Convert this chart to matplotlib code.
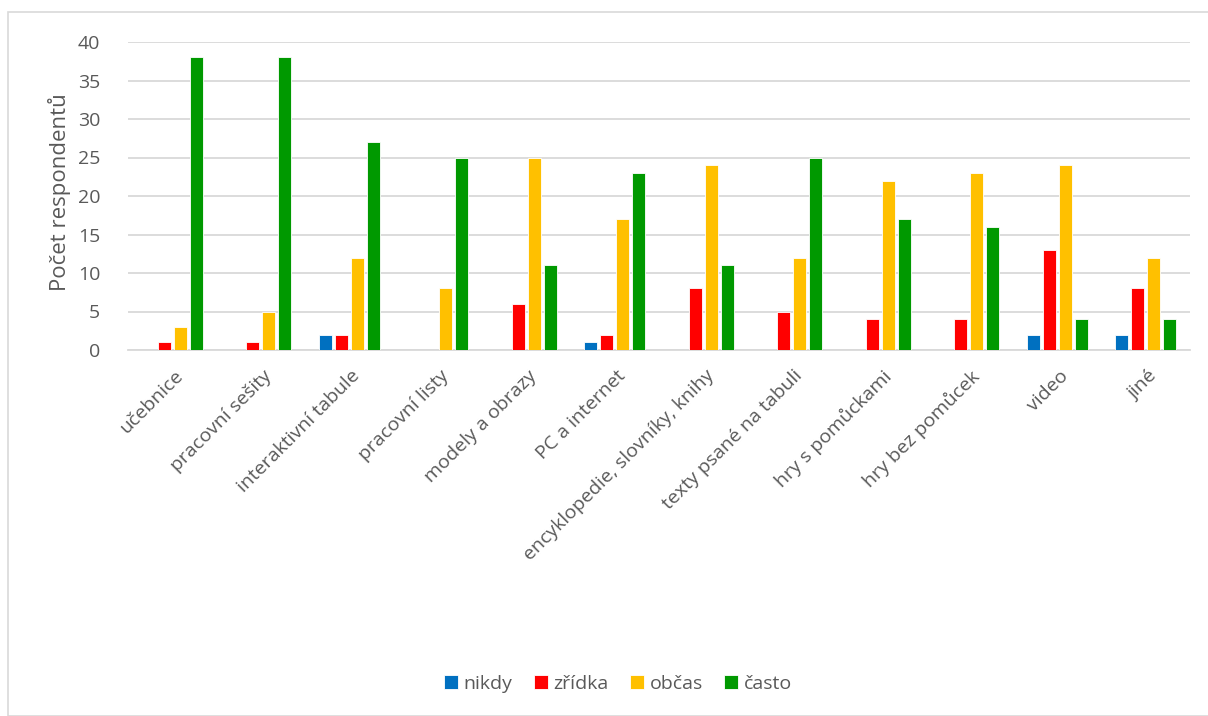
import matplotlib
matplotlib.use("Agg")
import matplotlib.pyplot as plt
from matplotlib.patches import Rectangle
import numpy as np

categories = ["učebnice", "pracovní sešity", "interaktivní tabule", "pracovní listy",
              "modely a obrazy", "PC a internet", "encyklopedie, slovníky, knihy",
              "texty psané na tabuli", "hry s pomůckami", "hry bez pomůcek", "video", "jiné"]
nikdy = [0, 0, 2, 0, 0, 1, 0, 0, 0, 0, 2, 2]
zridka = [1, 1, 2, 0, 6, 2, 8, 5, 4, 4, 13, 8]
obcas = [3, 5, 12, 8, 25, 17, 24, 12, 22, 23, 24, 12]
casto = [38, 38, 27, 25, 11, 23, 11, 25, 17, 16, 4, 4]

series = [("nikdy", nikdy, "#0070C0"), ("zřídka", zridka, "#FF0000"),
          ("občas", obcas, "#FFC000"), ("často", casto, "#009900")]

plt.rcParams['font.family'] = ['Open Sans', 'DejaVu Sans']
text_color = "#595959"
W, H = 1208, 716

fig = plt.figure(figsize=(W / 100, H / 100), dpi=100)
fig.patches.append(Rectangle((8 / W, 0), 1.2, 1 - 12 / H, transform=fig.transFigure,
                             fill=False, edgecolor="#D9D9D9", linewidth=1.2))

ax = fig.add_axes([128 / W, 1 - 350 / H, (1190 - 128) / W, (350 - 42) / H])
x = np.arange(len(categories))
step = 0.182
width = 0.148
for i, (name, vals, col) in enumerate(series):
    ax.bar(x + (i - 1.5) * step, vals, width=width, color=col, label=name,
           edgecolor="white", linewidth=0.6, zorder=3)

ax.set_xlim(-0.5, len(categories) - 0.5)
ax.set_ylim(0, 40)
ax.set_yticks(range(0, 41, 5))
ax.yaxis.grid(True, color="#D9D9D9", linewidth=1.3, zorder=0)
ax.set_axisbelow(True)
for s in ["top", "right", "left"]:
    ax.spines[s].set_visible(False)
ax.spines["bottom"].set_color("#D9D9D9")
ax.spines["bottom"].set_linewidth(1.3)
ax.tick_params(axis="both", length=0, labelsize=14, labelcolor=text_color)
ax.tick_params(axis="y", pad=20)
ax.set_xticks(x + 0.02)
ax.set_xticklabels(categories, rotation=45, ha="right", va="top", rotation_mode="anchor")
ax.tick_params(axis="x", pad=12)

fig.text(60 / W, 1 - 192 / H, "Počet respondentů", rotation=90, fontsize=16,
         color=text_color, ha="center", va="center")

handles, labels = ax.get_legend_handles_labels()
fig.legend(handles, labels, loc="center", bbox_to_anchor=(618 / W, 1 - 684 / H),
           ncol=4, frameon=False, fontsize=14, labelcolor=text_color,
           handlelength=0.7, handleheight=0.7, handletextpad=0.3, columnspacing=1.1)

fig.savefig("out.png", dpi=100)
